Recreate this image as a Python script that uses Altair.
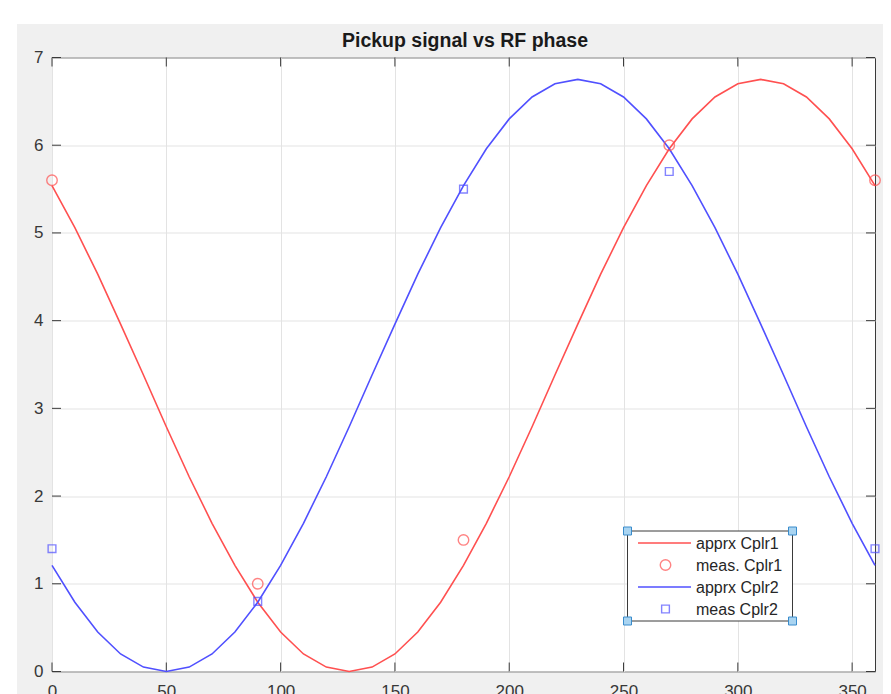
import altair as alt
import pandas as pd

# ---- data ----
phase = [0, 10, 20, 30, 40, 50, 60, 70, 80, 90, 100, 110, 120, 130, 140, 150, 160, 170, 180,
         190, 200, 210, 220, 230, 240, 250, 260, 270, 280, 290, 300, 310, 320, 330, 340, 350, 360]
apprx_cplr1 = [5.54, 5.06, 4.53, 3.96, 3.38, 2.79, 2.22, 1.69, 1.21, 0.79, 0.45, 0.20, 0.05, 0.00,
               0.05, 0.20, 0.45, 0.79, 1.21, 1.69, 2.22, 2.79, 3.38, 3.96, 4.53, 5.06, 5.54, 5.96,
               6.30, 6.55, 6.70, 6.75, 6.70, 6.55, 6.30, 5.96, 5.54]
apprx_cplr2 = [1.21, 0.79, 0.45, 0.20, 0.05, 0.00, 0.05, 0.20, 0.45, 0.79, 1.21, 1.69, 2.22, 2.79,
               3.38, 3.96, 4.53, 5.06, 5.54, 5.96, 6.30, 6.55, 6.70, 6.75, 6.70, 6.55, 6.30, 5.96,
               5.54, 5.06, 4.53, 3.96, 3.38, 2.79, 2.22, 1.69, 1.21]
meas_phase = [0, 90, 180, 270, 360]
meas_cplr1 = [5.6, 1.0, 1.5, 6.0, 5.6]
meas_cplr2 = [1.4, 0.8, 5.5, 5.7, 1.4]
x_ticks = [0, 50, 100, 150, 200, 250, 300, 350]
y_ticks = [0, 1, 2, 3, 4, 5, 6, 7]
legend_labels = ["apprx Cplr1", "meas. Cplr1", "apprx Cplr2", "meas Cplr2"]
title_text = "Pickup signal vs RF phase"

# ---- styling / layout ----
W, H = 823, 614
RED = "#ff5050"
BLUE = "#5050ff"
FONT = "Liberation Sans"
LABEL_COLOR = "#383838"
TICK = 9

df1 = pd.DataFrame({"phase": phase, "value": apprx_cplr1})
df2 = pd.DataFrame({"phase": phase, "value": apprx_cplr2})
dm1 = pd.DataFrame({"phase": meas_phase, "value": meas_cplr1})
dm2 = pd.DataFrame({"phase": meas_phase, "value": meas_cplr2})
dxt = pd.DataFrame({"phase": x_ticks})
dyt = pd.DataFrame({"value": y_ticks})
one = pd.DataFrame({"a": [0]})

xs = alt.Scale(domain=[0, 360], nice=False, zero=False)
ys = alt.Scale(domain=[0, 7], nice=False, zero=False)
xaxis = alt.Axis(values=x_ticks, grid=True, gridColor="#e3e3e3", gridWidth=1, domain=False,
                 ticks=False, tickSize=0, labelPadding=12, labelFontSize=17, labelFont=FONT,
                 labelColor=LABEL_COLOR, labelFlush=False, title=None, format="d")
yaxis = alt.Axis(values=y_ticks, grid=True, gridColor="#e3e3e3", gridWidth=1, domain=False,
                 ticks=False, tickSize=0, labelPadding=9, labelFontSize=17, labelFont=FONT,
                 labelColor=LABEL_COLOR, labelFlush=False, title=None, format="d")


def X(f="phase"):
    return alt.X(f, type="quantitative", scale=xs, axis=xaxis)


def Y(f="value"):
    return alt.Y(f, type="quantitative", scale=ys, axis=yaxis)


layers = []

# white strip outside the gray figure area (top and left)
layers.append(alt.Chart(one).mark_rect(color="white").encode(
    x=alt.value(-60), x2=alt.value(W + 30), y=alt.value(-70), y2=alt.value(-33.5)))
layers.append(alt.Chart(one).mark_rect(color="white").encode(
    x=alt.value(-60), x2=alt.value(-35), y=alt.value(-70), y2=alt.value(H + 60)))

# title (as a text mark so the strips above do not push it away)
layers.append(alt.Chart(one).mark_text(text=title_text, align="center", baseline="alphabetic",
                                       font=FONT, fontSize=19.5, fontWeight="bold",
                                       color="#1a1a1a").encode(
    x=alt.value(413), y=alt.value(-10.5)))

# inward ticks on all four sides
tick_style = dict(color="#3a3a3a", strokeWidth=1)
layers.append(alt.Chart(dxt).mark_rule(**tick_style).encode(x=X(), y=alt.value(H), y2=alt.value(H - TICK)))
layers.append(alt.Chart(dxt).mark_rule(**tick_style).encode(x=X(), y=alt.value(0), y2=alt.value(TICK)))
layers.append(alt.Chart(dyt).mark_rule(**tick_style).encode(y=Y(), x=alt.value(0), x2=alt.value(TICK)))
layers.append(alt.Chart(dyt).mark_rule(**tick_style).encode(y=Y(), x=alt.value(W), x2=alt.value(W - TICK)))

# data
layers.append(alt.Chart(df1).mark_line(color=RED, strokeWidth=1.6).encode(x=X(), y=Y()))
layers.append(alt.Chart(df2).mark_line(color=BLUE, strokeWidth=1.6).encode(x=X(), y=Y()))
layers.append(alt.Chart(dm1).mark_point(shape="circle", size=110, color=RED, filled=False,
                                        strokeWidth=1.4).encode(x=X(), y=Y()))
layers.append(alt.Chart(dm2).mark_point(shape="square", size=60, color=BLUE, filled=False,
                                        strokeWidth=1.4).encode(x=X(), y=Y()))

# legend box
LX0, LX1, LY0, LY1 = 575.5, 740.5, 473.5, 563.5
layers.append(alt.Chart(one).mark_rect(fill="white", stroke="#3a3a3a", strokeWidth=1).encode(
    x=alt.value(LX0), x2=alt.value(LX1), y=alt.value(LY0), y2=alt.value(LY1)))
rows = [485.5, 507.5, 529.5, 551.5]
kinds = [("line", RED), ("circle", RED), ("line", BLUE), ("square", BLUE)]
for lab, ry, (kind, col) in zip(legend_labels, rows, kinds):
    if kind == "line":
        layers.append(alt.Chart(one).mark_rule(color=col, strokeWidth=1.6).encode(
            x=alt.value(586), x2=alt.value(639), y=alt.value(ry)))
    else:
        layers.append(alt.Chart(one).mark_point(
            shape=kind, size=110 if kind == "circle" else 60, color=col, filled=False,
            strokeWidth=1.4).encode(x=alt.value(613.5), y=alt.value(ry)))
    layers.append(alt.Chart(one).mark_text(text=lab, align="left", baseline="middle", font=FONT,
                                           fontSize=16, color="#262626").encode(
        x=alt.value(644), y=alt.value(ry + 1)))
# selection handles at the legend corners
for hx, hy in [(LX0, LY0), (LX1, LY0), (LX0, LY1), (LX1, LY1)]:
    layers.append(alt.Chart(one).mark_point(shape="square", size=64, filled=True, fill="#a9d4f1",
                                            stroke="#3a8ccc", strokeWidth=1, opacity=1).encode(
        x=alt.value(hx), y=alt.value(hy)))

chart = alt.layer(*layers).properties(
    width=W, height=H,
    autosize=alt.AutoSizeParams(type="none"),
    padding={"left": 44, "top": 49.5, "right": 8, "bottom": 50},
    background="#f0f0f0",
).configure_view(fill="white", stroke="#3a3a3a", strokeWidth=1)

chart.save("out.html", embed_options={"renderer": "svg", "actions": False})
